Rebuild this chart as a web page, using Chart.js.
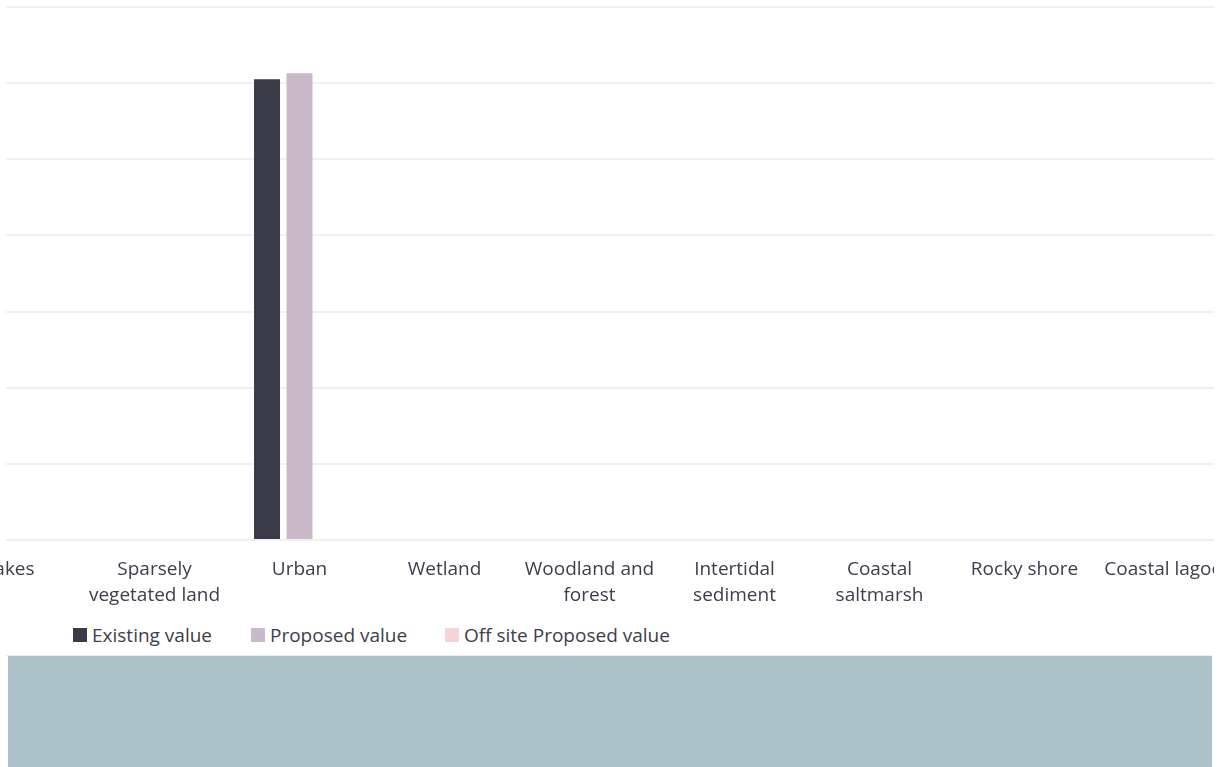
<!DOCTYPE html>
<html>
<head>
<meta charset="utf-8">
<script src="https://cdn.jsdelivr.net/npm/chart.js@4.4.1/dist/chart.umd.min.js"></script>
<style>
  html, body { margin: 0; padding: 0; background: #ffffff; width: 1228px; height: 767px; overflow: hidden; }
  #clip { position: absolute; left: 0; top: 0; width: 1214px; height: 650px; overflow: hidden; }
  #holder { position: absolute; left: -70px; top: 0; width: 1330px; height: 618px; }
  #cover { position: absolute; left: 0; top: 0; width: 6px; height: 545px; background: #ffffff; }
  #legend { position: absolute; top: 622px; left: 0; height: 26px; font-family: 'Open Sans', sans-serif; font-size: 19px; color: #3d3d4c; }
  .item { position: absolute; top: 0; white-space: nowrap; display: flex; align-items: center; height: 26px; }
  .sw { width: 14px; height: 14px; margin-right: 5px; display: inline-block; }
  #bandline { position: absolute; left: 6px; top: 655px; width: 1207px; height: 1px; background: #e8eef0; }
  #band { position: absolute; left: 8px; top: 656px; width: 1204px; height: 111px; background: #abc3c8; }
</style>
</head>
<body>
<div id="clip">
  <div id="holder"><canvas id="c" width="1330" height="618"></canvas></div>
  <div id="cover"></div>
</div>
<div id="legend"></div>
<div id="bandline"></div>
<div id="band"></div>
<script>
const categories = [
  "Lakes",
  ["Sparsely", "vegetated land"],
  "Urban",
  "Wetland",
  ["Woodland and", "forest"],
  ["Intertidal", "sediment"],
  ["Coastal", "saltmarsh"],
  "Rocky shore",
  "Coastal lagoon"
];
const seriesNames = ["Existing value", "Proposed value", "Off site Proposed value"];
const existingValues = [0, 0, 60.5, 0, 0, 0, 0, 0, 0];
const proposedValues = [0, 0, 61.3, 0, 0, 0, 0, 0, 0];
const offsiteValues  = [0, 0, 0, 0, 0, 0, 0, 0, 0];
const seriesColors = ["#3a3947", "#c9b9cb", "#f5d3d6"];
const yMin = 0, yMax = 70, yStep = 10;

const FONT = "'Open Sans', sans-serif";
const TEXT = "#3d3d4c";

new Chart(document.getElementById("c"), {
  type: "bar",
  data: {
    labels: categories,
    datasets: [existingValues, proposedValues, offsiteValues].map((d, i) => ({
      label: seriesNames[i],
      data: d,
      backgroundColor: seriesColors[i],
      borderWidth: 0,
      barPercentage: 0.8,
      categoryPercentage: 0.672
    }))
  },
  options: {
    responsive: false,
    animation: false,
    devicePixelRatio: 1,
    layout: { padding: { left: 7, right: 18, top: 7, bottom: 0 } },
    plugins: { legend: { display: false }, tooltip: { enabled: false } },
    scales: {
      x: {
        grid: { display: false },
        border: { display: false },
        ticks: {
          color: TEXT,
          font: { family: FONT, size: 19, lineHeight: 26 / 19 },
          padding: 9,
          maxRotation: 0,
          minRotation: 0,
          autoSkip: false
        }
      },
      y: {
        min: yMin,
        max: yMax,
        ticks: { display: false, stepSize: yStep },
        grid: { color: "#eff1f0", lineWidth: 2, drawTicks: false },
        border: { display: false }
      }
    }
  }
});

const legendLefts = [73, 251, 445];
const legend = document.getElementById("legend");
seriesNames.forEach((name, i) => {
  const it = document.createElement("div");
  it.className = "item";
  it.style.left = legendLefts[i] + "px";
  const sw = document.createElement("span");
  sw.className = "sw";
  sw.style.background = seriesColors[i];
  const tx = document.createElement("span");
  tx.textContent = name;
  it.appendChild(sw);
  it.appendChild(tx);
  legend.appendChild(it);
});
</script>
</body>
</html>
